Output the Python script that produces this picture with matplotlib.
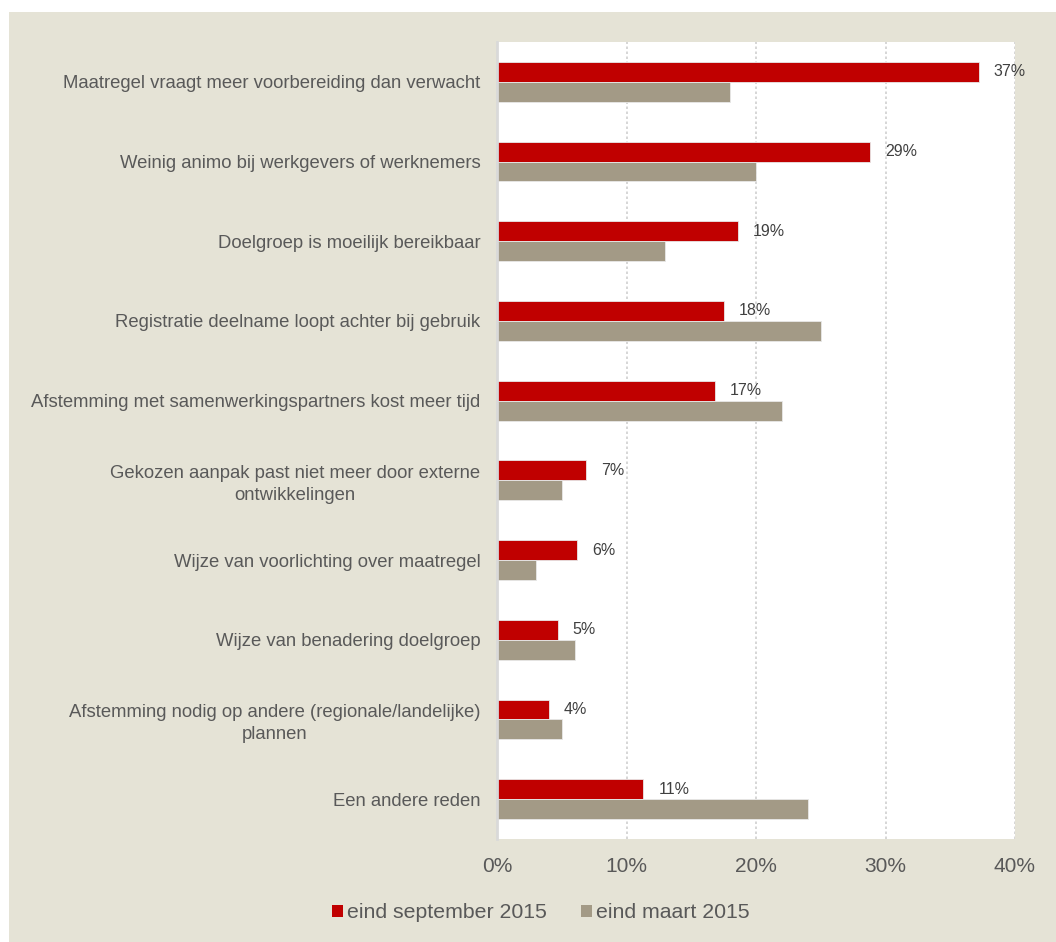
import matplotlib
matplotlib.use("Agg")
import matplotlib.pyplot as plt
from matplotlib.patches import Rectangle
import numpy as np

categories = [
    "Maatregel vraagt meer voorbereiding dan verwacht",
    "Weinig animo bij werkgevers of werknemers",
    "Doelgroep is moeilijk bereikbaar",
    "Registratie deelname loopt achter bij gebruik",
    "Afstemming met samenwerkingspartners kost meer tijd",
    "Gekozen aanpak past niet meer door externe\nontwikkelingen",
    "Wijze van voorlichting over maatregel",
    "Wijze van benadering doelgroep",
    "Afstemming nodig op andere (regionale/landelijke)\nplannen",
    "Een andere reden",
]
sep_2015 = [37.2, 28.8, 18.6, 17.5, 16.8, 6.9, 6.2, 4.7, 4.0, 11.3]
mrt_2015 = [18.0, 20.0, 13.0, 25.0, 22.0, 5.0, 3.0, 6.0, 5.0, 24.0]
sep_labels = ["37%", "29%", "19%", "18%", "17%", "7%", "6%", "5%", "4%", "11%"]
series_names = ["eind september 2015", "eind maart 2015"]
xticks = [0, 10, 20, 30, 40]
xtick_labels = ["0%", "10%", "20%", "30%", "40%"]

RED = "#c00000"
GRAY = "#a39a86"
BEIGE = "#e5e3d6"
TXT = "#595959"

plt.rcParams["font.family"] = ["Liberation Sans", "DejaVu Sans"]

fig = plt.figure(figsize=(10.56, 9.42), dpi=100, facecolor="white")
fig.patches.append(Rectangle((9 / 1056, 0), 1, 1 - 12 / 942, transform=fig.transFigure,
                             facecolor=BEIGE, edgecolor="none", zorder=-10))

ax = fig.add_axes([497 / 1056, 1 - 839 / 942, (1015 - 497) / 1056, (839 - 42) / 942])
ax.set_facecolor("white")

y = np.arange(len(categories))
h = 0.25
ax.barh(y - h / 2, sep_2015, height=h, color=RED, edgecolor="#e8e8e8", linewidth=0.6,
        label=series_names[0], zorder=3)
ax.barh(y + h / 2, mrt_2015, height=h, color=GRAY, edgecolor="#e8e8e8", linewidth=0.6,
        label=series_names[1], zorder=3)

for yi, v, lab in zip(y, sep_2015, sep_labels):
    ax.annotate(lab, xy=(v, yi - h / 2), xytext=(15, 0),
                textcoords="offset pixels", ha="left", va="center",
                fontsize=11.5, color="#404040")

ax.set_xlim(0, 40)
ax.set_ylim(len(categories) - 0.5, -0.5)
ax.set_xticks(xticks)
ax.set_xticklabels(xtick_labels, fontsize=15, color=TXT)
ax.set_yticks(y)
ax.set_yticklabels(categories, fontsize=13.3, color=TXT, multialignment="center",
                   linespacing=1.35)
ax.tick_params(axis="x", length=0, pad=13)
ax.tick_params(axis="y", length=0, pad=12)

ax.grid(axis="x", color="#d0d0d0", linestyle=(0, (1.5, 1.5)), linewidth=1.2, zorder=1)
for s in ["top", "right", "bottom"]:
    ax.spines[s].set_visible(False)
ax.spines["left"].set_color("#d9d9d9")
ax.spines["left"].set_linewidth(2)
ax.spines["left"].set_zorder(4)

handles, labels = ax.get_legend_handles_labels()
leg = fig.legend(handles, labels, loc="center", bbox_to_anchor=(541 / 1056, 1 - 913 / 942),
                 ncol=2, frameon=False, fontsize=15.3, handlelength=0.5, handleheight=0.5,
                 handletextpad=0.2, columnspacing=1.6)
for t in leg.get_texts():
    t.set_color(TXT)
for p in leg.get_patches():
    p.set_edgecolor("none")

fig.savefig("out.png", dpi=100, facecolor=fig.get_facecolor())
